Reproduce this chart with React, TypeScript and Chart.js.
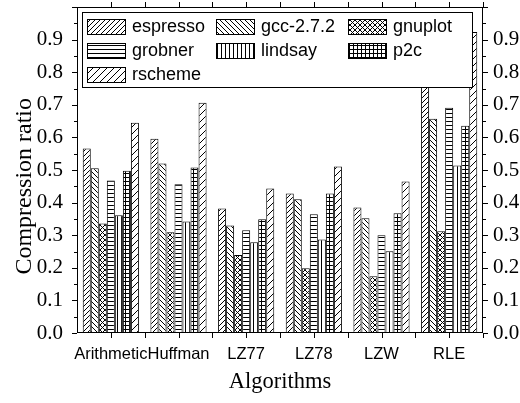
import React, { useEffect, useRef } from 'react';
import { Chart, registerables } from 'chart.js';

Chart.register(...registerables);

const categories = ['Arithmetic', 'Huffman', 'LZ77', 'LZ78', 'LZW', 'RLE'];
const seriesNames = ['espresso', 'gcc-2.7.2', 'gnuplot', 'grobner', 'lindsay', 'p2c', 'rscheme'];

const espresso = [0.566, 0.596, 0.382, 0.428, 0.385, 0.8];
const gcc = [0.505, 0.52, 0.33, 0.41, 0.352, 0.657];
const gnuplot = [0.336, 0.309, 0.239, 0.199, 0.174, 0.312];
const grobner = [0.468, 0.456, 0.315, 0.364, 0.3, 0.691];
const lindsay = [0.361, 0.342, 0.278, 0.287, 0.251, 0.514];
const p2c = [0.498, 0.508, 0.349, 0.428, 0.367, 0.636];
const rscheme = [0.645, 0.706, 0.443, 0.511, 0.465, 0.923];

const seriesValues = [espresso, gcc, gnuplot, grobner, lindsay, p2c, rscheme];
const patternKinds = ['slash', 'backslash', 'cross', 'hline', 'vline', 'grid', 'slashWide'];

const SERIF = '"Liberation Serif", "Times New Roman", serif';
const SANS = '"Liberation Sans", Arial, sans-serif';

// hatch fills like the ones in the original plot
function makePattern(ctx: CanvasRenderingContext2D, kind: string) {
  const s = kind === 'slashWide' ? 7 : kind === 'hline' || kind === 'vline' || kind === 'grid' ? 4 : 5;
  const c = document.createElement('canvas');
  c.width = s;
  c.height = s;
  const g = c.getContext('2d')!;
  g.fillStyle = '#fff';
  g.fillRect(0, 0, s, s);
  g.strokeStyle = '#000';
  g.lineWidth = 1;
  g.beginPath();
  if (kind === 'slash' || kind === 'slashWide' || kind === 'cross') {
    for (let k = -1; k <= 1; k++) {
      g.moveTo(k * s, s);
      g.lineTo(k * s + s, 0);
    }
  }
  if (kind === 'backslash' || kind === 'cross') {
    for (let k = -1; k <= 1; k++) {
      g.moveTo(k * s, 0);
      g.lineTo(k * s + s, s);
    }
  }
  if (kind === 'hline' || kind === 'grid') {
    g.moveTo(0, 1.5);
    g.lineTo(s, 1.5);
  }
  if (kind === 'vline' || kind === 'grid') {
    g.moveTo(1.5, 0);
    g.lineTo(1.5, s);
  }
  g.stroke();
  return ctx.createPattern(c, 'repeat')!;
}

// box, tick marks on all four sides, rotated y title
const framePlugin = {
  id: 'frame',
  afterDraw(chart: any) {
    const { ctx, chartArea: a, scales } = chart;
    const x = scales.x;
    const y = scales.y;
    ctx.save();
    ctx.strokeStyle = '#000';
    ctx.lineWidth = 1;
    ctx.strokeRect(a.left + 0.5, a.top + 0.5, a.right - a.left - 1, a.bottom - a.top - 1);
    ctx.beginPath();
    const step = x.getPixelForValue(1) - x.getPixelForValue(0);
    for (let i = 0; i < categories.length; i++) {
      const c = Math.round(x.getPixelForValue(i)) + 0.5;
      const b = Math.round(x.getPixelForValue(i) + step / 2) + 0.5;
      [c, b].forEach((px) => {
        ctx.moveTo(px, a.bottom);
        ctx.lineTo(px, a.bottom + 5);
        ctx.moveTo(px, a.top);
        ctx.lineTo(px, a.top - 5);
      });
    }
    for (let j = 0; j <= 20; j++) {
      const py = Math.round(y.getPixelForValue(j * 0.05)) + 0.5;
      const len = j % 2 === 0 ? 5 : 3;
      ctx.moveTo(a.left, py);
      ctx.lineTo(a.left - len, py);
      ctx.moveTo(a.right, py);
      ctx.lineTo(a.right + len, py);
    }
    ctx.stroke();

    ctx.fillStyle = '#000';
    ctx.font = `24px ${SERIF}`;
    ctx.textAlign = 'center';
    ctx.textBaseline = 'middle';
    ctx.translate(25, y.getPixelForValue(0.45));
    ctx.rotate(-Math.PI / 2);
    ctx.fillText('Compression ratio', 0, 0);
    ctx.restore();
  },
};

// legend drawn inside the plot, over the bars
const boxLegendPlugin = {
  id: 'boxLegend',
  afterDatasetsDraw(chart: any) {
    const { ctx } = chart;
    ctx.save();
    ctx.fillStyle = '#fff';
    ctx.fillRect(82, 12, 390, 75);
    ctx.strokeStyle = '#000';
    ctx.lineWidth = 1;
    ctx.strokeRect(82.5, 12.5, 390, 75);
    const cols = [87, 216, 348];
    ctx.font = `18px ${SANS}`;
    ctx.textBaseline = 'middle';
    chart.data.datasets.forEach((ds: any, i: number) => {
      const col = i % 3;
      const row = Math.floor(i / 3);
      const sx = cols[col];
      const sy = 19 + row * 24;
      ctx.fillStyle = ds.backgroundColor;
      ctx.fillRect(sx, sy, 38, 15);
      ctx.strokeStyle = '#000';
      ctx.strokeRect(sx + 0.5, sy + 0.5, 38, 15);
      ctx.fillStyle = '#000';
      ctx.fillText(ds.label, sx + 45, sy + 8);
    });
    ctx.restore();
  },
};

const App = () => {
  const chartRef = useRef<HTMLCanvasElement | null>(null);

  useEffect(() => {
    document.body.style.margin = '0';
    const canvas = chartRef.current;
    if (!canvas) return;
    const ctx = canvas.getContext('2d');
    if (!ctx) return;

    const datasets = seriesNames.map((name, i) => ({
      label: name,
      data: seriesValues[i],
      backgroundColor: makePattern(ctx, patternKinds[i]),
      borderColor: '#000',
      borderWidth: 1,
      categoryPercentage: 0.83,
      barPercentage: 1.0,
    }));

    const yTicks = {
      stepSize: 0.1,
      autoSkip: false,
      color: '#000',
      font: { family: SERIF, size: 21 },
      callback: (v: any) => (Number(v) > 0.99 ? '' : Number(v).toFixed(1)),
    };

    const noPad = (s: any) => {
      s.paddingTop = 0;
      s.paddingBottom = 0;
      s.paddingLeft = 0;
      s.paddingRight = 0;
    };

    const chart = new Chart(ctx, {
      type: 'bar',
      data: { labels: categories, datasets: datasets as any },
      options: {
        animation: false,
        responsive: false,
        devicePixelRatio: 1,
        layout: { padding: { top: 7, left: 0, right: 0, bottom: 0 } },
        plugins: { legend: { display: false }, tooltip: { enabled: false } },
        scales: {
          x: {
            type: 'category',
            offset: true,
            grid: { display: false },
            border: { display: false },
            ticks: { color: '#000', font: { family: SANS, size: 16.5 }, padding: 4, maxRotation: 0, autoSkip: false },
            title: {
              display: true,
              text: 'Algorithms',
              color: '#000',
              font: { family: SERIF, size: 22.5 },
              padding: { top: 0, bottom: 7 },
            },
            afterFit: (s: any) => {
              s.height = 70;
              noPad(s);
            },
          },
          y: {
            min: 0,
            max: 1,
            position: 'left',
            grid: { display: false },
            border: { display: false },
            ticks: { ...yTicks, padding: 6 },
            afterFit: (s: any) => {
              s.width = 77;
              noPad(s);
            },
          },
          y2: {
            min: 0,
            max: 1,
            position: 'right',
            grid: { display: false },
            border: { display: false },
            ticks: { ...yTicks, padding: 2 },
            afterFit: (s: any) => {
              s.width = 37;
              noPad(s);
            },
          },
        },
      },
      plugins: [framePlugin, boxLegendPlugin],
    });

    return () => {
      chart.destroy();
    };
  }, []);

  return <canvas ref={chartRef} width={520} height={403} style={{ display: 'block' }} />;
};

export default App;
